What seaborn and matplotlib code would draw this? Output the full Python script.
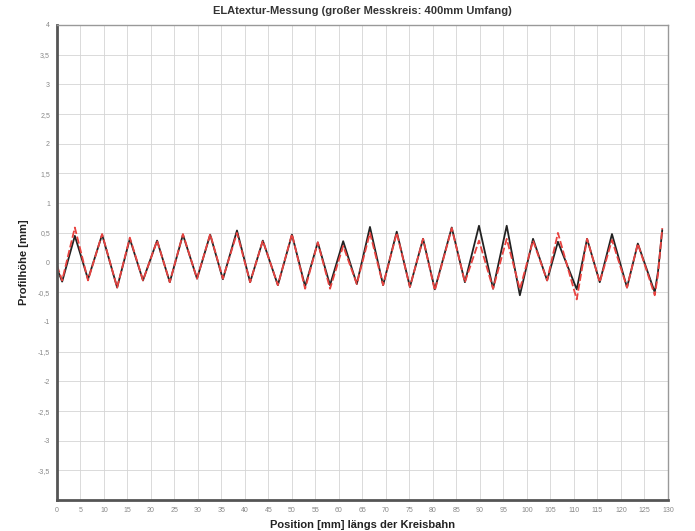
import matplotlib
matplotlib.use("Agg")
import matplotlib.pyplot as plt
import seaborn as sns
import pandas as pd
import numpy as np

# positions of curve extrema along the track [mm]
position = [0.0, 1.1, 3.8, 6.6, 9.6, 12.8, 15.5, 18.3, 21.3, 24.0, 26.8, 29.8,
            32.6, 35.3, 38.3, 41.1, 43.8, 47.0, 50.0, 52.8, 55.5, 58.1, 60.9,
            63.8, 66.6, 69.4, 72.3, 75.1, 77.9, 80.4, 84.0, 86.8, 89.8, 92.8,
            95.7, 98.5, 101.3, 104.3, 106.6, 110.6, 112.8, 115.5, 118.1, 121.3,
            123.6, 127.2, 127.9, 128.8]
profil_rot = [-0.05, -0.30, 0.59, -0.30, 0.48, -0.42, 0.42, -0.30, 0.37, -0.33,
              0.48, -0.27, 0.48, -0.27, 0.50, -0.33, 0.37, -0.38, 0.48, -0.44,
              0.34, -0.44, 0.28, -0.36, 0.50, -0.38, 0.50, -0.41, 0.40, -0.47,
              0.58, -0.33, 0.37, -0.44, 0.40, -0.45, 0.37, -0.30, 0.50, -0.62,
              0.40, -0.33, 0.38, -0.42, 0.32, -0.55, -0.20, 0.58]
profil_schwarz = [-0.10, -0.32, 0.45, -0.28, 0.47, -0.42, 0.40, -0.30, 0.37, -0.33,
                  0.47, -0.27, 0.47, -0.28, 0.54, -0.33, 0.37, -0.38, 0.47, -0.40,
                  0.34, -0.38, 0.36, -0.36, 0.60, -0.38, 0.52, -0.41, 0.40, -0.45,
                  0.59, -0.33, 0.62, -0.44, 0.62, -0.55, 0.40, -0.30, 0.35, -0.45,
                  0.40, -0.33, 0.48, -0.42, 0.32, -0.50, -0.15, 0.55]

x_ticks = list(range(0, 131, 5))
y_ticks = [-4, -3.5, -3, -2.5, -2, -1.5, -1, -0.5, 0, 0.5, 1, 1.5, 2, 2.5, 3, 3.5, 4]

sns.set_style("white")
plt.rcParams['font.family'] = ['Liberation Sans', 'DejaVu Sans']

fig = plt.figure(figsize=(6.95, 5.31), dpi=100)
ax = fig.add_axes([0.082, 0.058, 0.879, 0.895])

df_s = pd.DataFrame({"x": position, "y": profil_schwarz})
df_r = pd.DataFrame({"x": position, "y": profil_rot})
sns.lineplot(data=df_s, x="x", y="y", ax=ax, color="#222222", lw=1.3,
             sort=False, estimator=None)
sns.lineplot(data=df_r, x="x", y="y", ax=ax, color="#e8423f", lw=1.3,
             sort=False, estimator=None, dashes=False)
ax.lines[-1].set_linestyle((0, (4, 1.5)))

ax.set_xlim(0, 130)
ax.set_ylim(-4, 4)
ax.set_xticks(x_ticks)
ax.set_xticklabels([str(t) for t in x_ticks])
ax.set_yticks(y_ticks)
ylabels = [("%g" % t).replace(".", ",") for t in y_ticks]
ylabels[0] = ""
ax.set_yticklabels(ylabels)
ax.tick_params(axis="both", labelsize=5, colors="#888888", length=2, pad=3)

ax.grid(True, color="#d4d4d4", lw=0.6, linestyle="-")
ax.set_axisbelow(True)

for side in ["left", "bottom"]:
    ax.spines[side].set_color("#555555")
    ax.spines[side].set_linewidth(2)
for side in ["top", "right"]:
    ax.spines[side].set_color("#999999")
    ax.spines[side].set_linewidth(1)

ax.set_title("ELAtextur-Messung (großer Messkreis: 400mm Umfang)",
             fontsize=8, fontweight="bold", color="#333333", pad=8)
ax.set_xlabel("Position [mm] längs der Kreisbahn", fontsize=8,
              fontweight="bold", color="#222222", labelpad=4)
ax.set_ylabel("Profilhöhe [mm]", fontsize=8, fontweight="bold",
              color="#222222", labelpad=6)

fig.savefig("out.png", dpi=100)
